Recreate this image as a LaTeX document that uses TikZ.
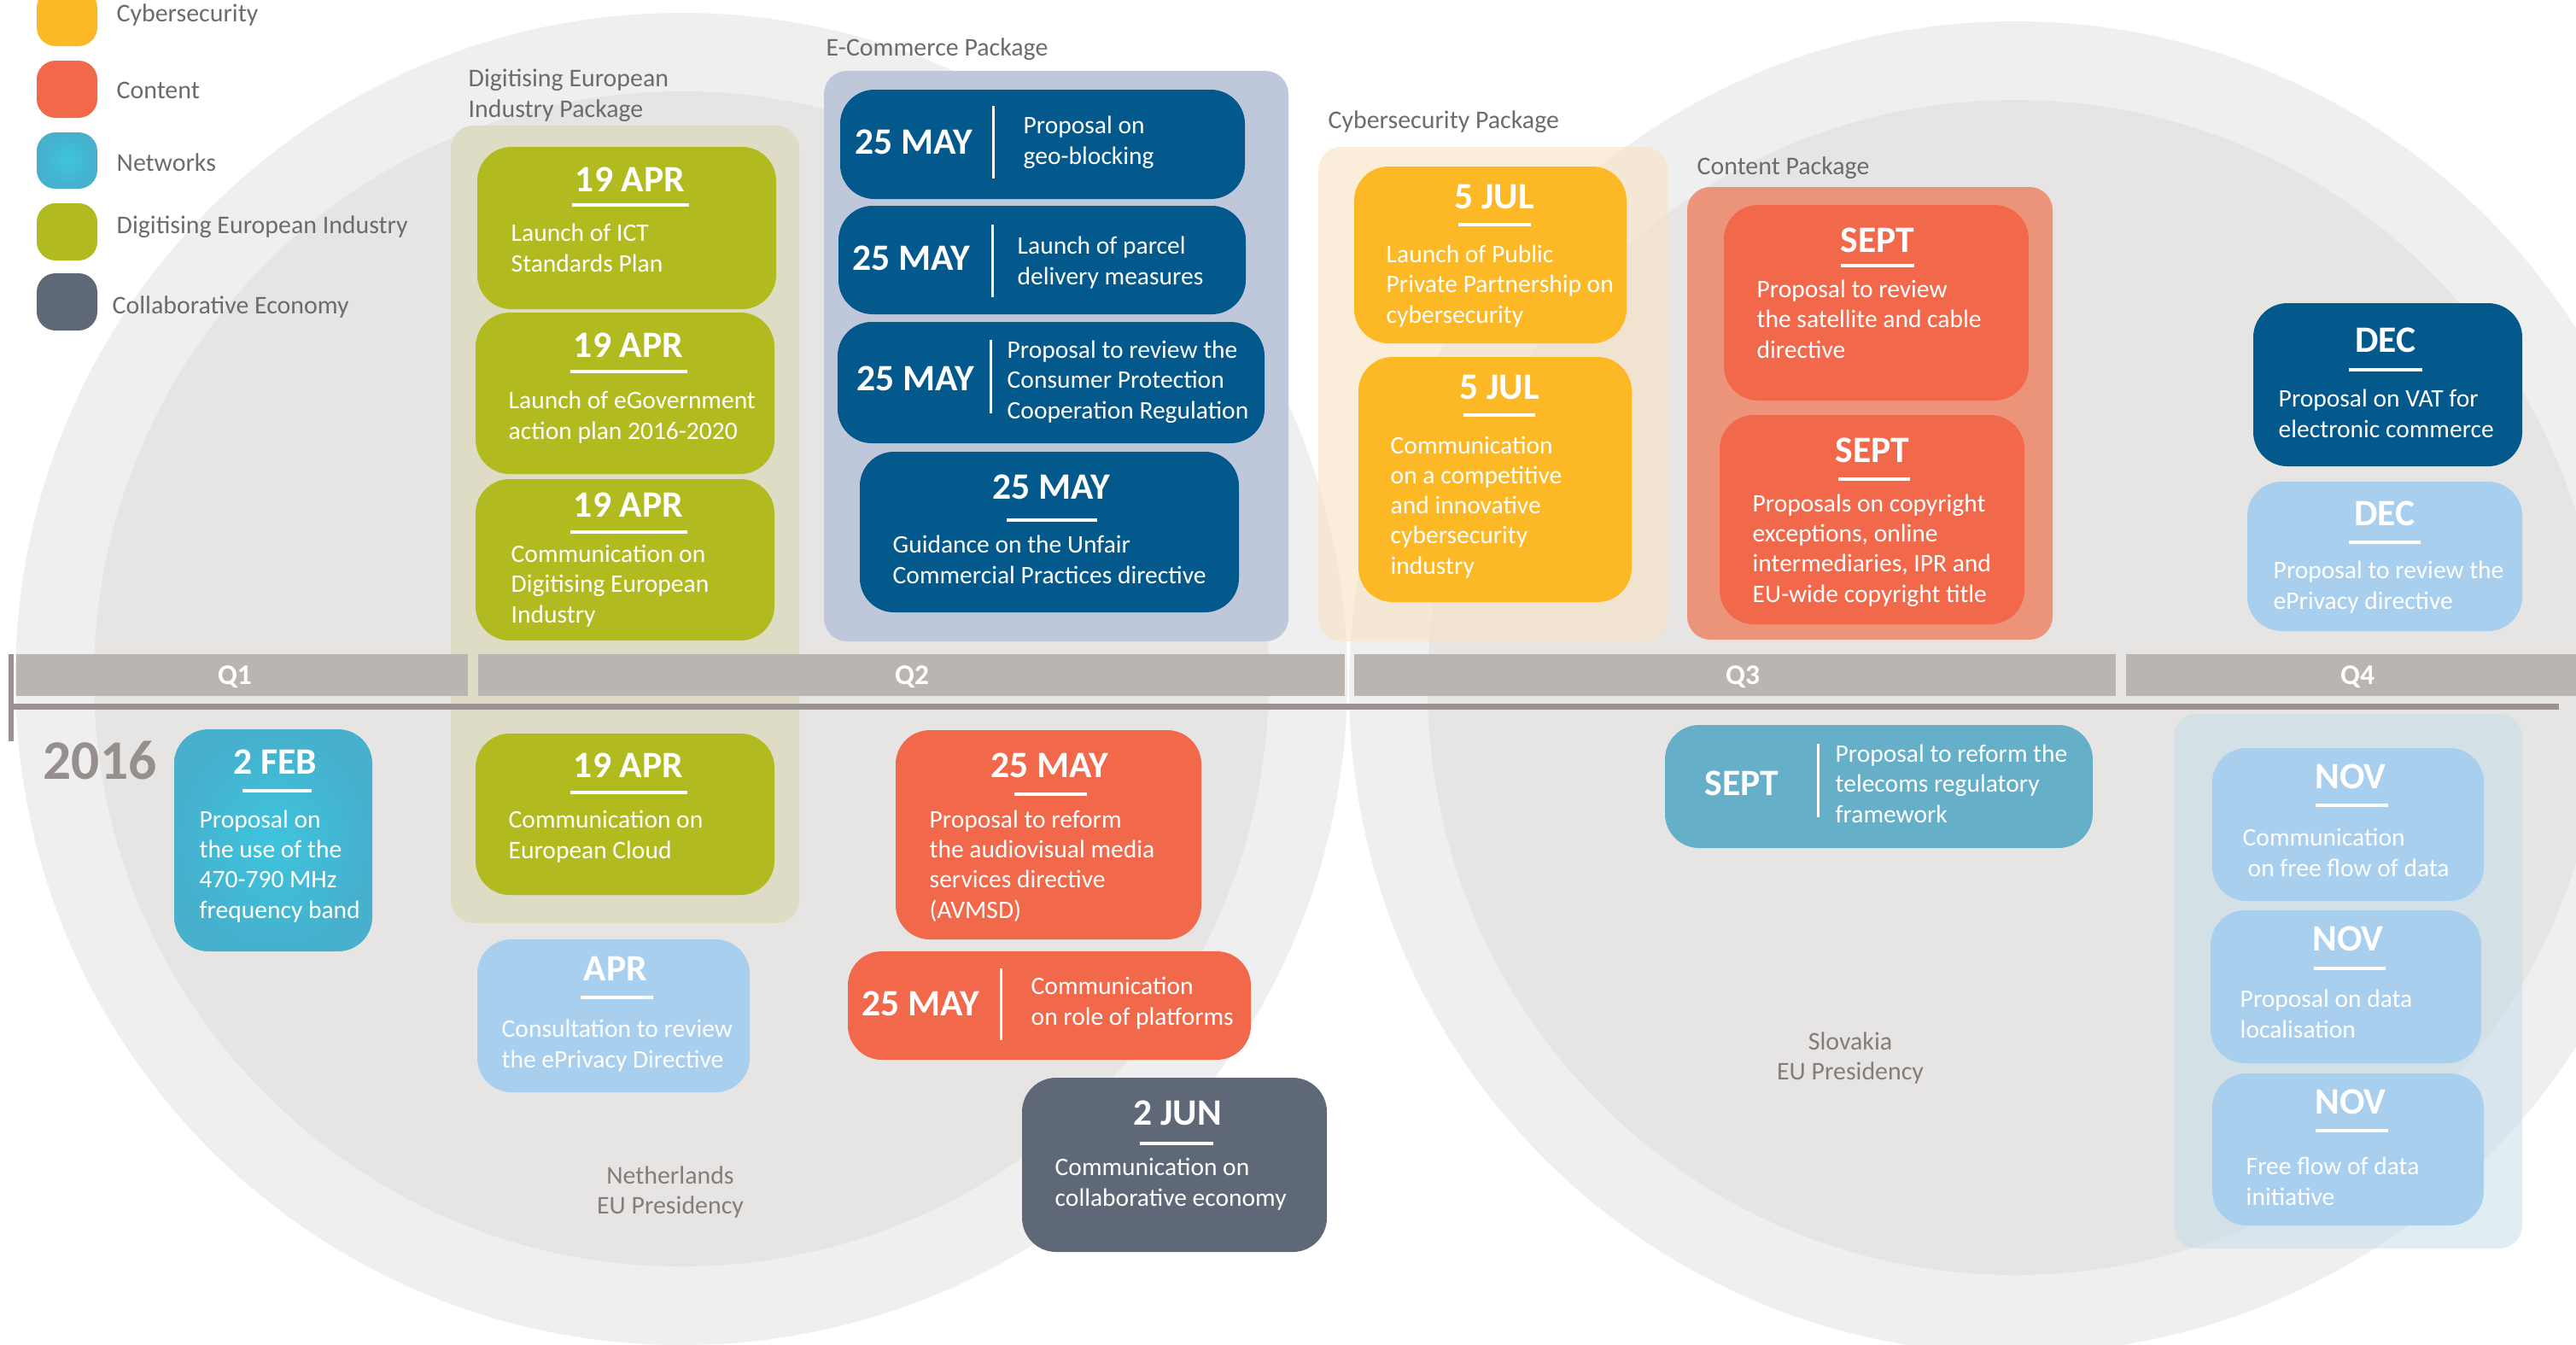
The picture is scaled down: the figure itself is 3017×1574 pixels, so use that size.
\documentclass[tikz,border=0pt]{standalone}
\usepackage{fontspec}
\setmainfont{Carlito}
\usepackage{tikz}
\usetikzlibrary{fit}

\definecolor{ringgray}{HTML}{F0EFF0}
\definecolor{coregray}{HTML}{E6E5E4}
\definecolor{deigreen}{HTML}{B1BB1F}
\definecolor{cyberyellow}{HTML}{FDB825}
\definecolor{contentred}{HTML}{F2684B}
\definecolor{netblue}{HTML}{46B0CD}
\definecolor{netglow}{HTML}{3EC4DD}
\definecolor{collabgray}{HTML}{5F6876}
\definecolor{ecomblue}{HTML}{03588C}
\definecolor{paleblue}{HTML}{A9CFEF}
\definecolor{telecomblue}{HTML}{65AFC9}
\definecolor{barcol}{HTML}{BAB5B1}
\definecolor{barline}{HTML}{9A9291}
\definecolor{labelgray}{HTML}{6E6B6C}
\definecolor{presgray}{HTML}{857D7B}
\definecolor{yeargray}{HTML}{968F8D}
\definecolor{deipkg}{HTML}{DEDCC5}
\definecolor{ecompkg}{HTML}{BFC8DB}
\definecolor{cyberpkg}{HTML}{F7E3C1}
\definecolor{contentpkg}{HTML}{EC947A}
\definecolor{novpkg}{HTML}{C1DDE9}

\begin{document}
\begin{tikzpicture}[x=0.1mm, y=-0.1mm,
    evbox/.style={rounded corners=4mm, inner sep=0pt},
    pkgbox/.style={rounded corners=2.7mm, inner sep=0pt},
    legbox/.style={rounded corners=2.2mm, inner sep=0pt},
    datetxt/.style={anchor=base, inner sep=0pt, text=white, font=\bfseries\fontsize{12.4}{14}\selectfont},
    evtxt/.style={anchor=base west, inner sep=0pt, align=left, text=white, font=\fontsize{8.4}{10}\selectfont},
    pkgtxt/.style={anchor=base west, inner sep=0pt, align=left, text=labelgray, font=\fontsize{8.5}{10}\selectfont},
    rule/.style={white, line width=0.4mm},
    divider/.style={white, line width=0.3mm},
    qtxt/.style={anchor=base, inner sep=0pt, text=white, font=\bfseries\fontsize{9.5}{11}\selectfont},
    prestxt/.style={align=center, inner sep=0pt, text=presgray, font=\fontsize{8.5}{10}\selectfont}]
        \useasboundingbox (0,0) rectangle (3017,1574);

        % presidency circles
        \fill[ringgray] (798,795) circle (78mm);
        \fill[ringgray] (2360,805) circle (78mm);
        \fill[coregray] (798,795) circle (68.8mm);
        \fill[coregray] (2360,805) circle (68.8mm);

        % legend
        \node[legbox, fill=cyberyellow, fit={(43,-13) (114,54)}] (legcyb) {};
        \node[legbox, fill=contentred, fit={(43,71) (114,138)}] (legcon) {};
        \node[legbox, inner color=netglow, outer color=netblue, fit={(43,155) (114,221)}] (legnet) {};
        \node[legbox, fill=deigreen, fit={(43,238) (114,305)}] (legdei) {};
        \node[legbox, fill=collabgray, fit={(43,320) (114,387)}] (legcol) {};
        \node[pkgtxt] (legcybt) at (136,25) {Cybersecurity};
        \node[pkgtxt] (legcont) at (136,115) {Content};
        \node[pkgtxt] (legnett) at (136,200) {Networks};
        \node[pkgtxt] (legdeit) at (136,273) {Digitising European Industry};
        \node[pkgtxt] (legcolt) at (131,367) {Collaborative Economy};

        % packages (multi-line texts sit on their last baseline)
        \node[pkgbox, fill=deipkg, fit={(528,147) (936,1081)}] (deipkg) {};
        \node[pkgbox, fill=ecompkg, fit={(965,83) (1509,751)}] (ecompkg) {};
        \node[pkgbox, fill=cyberpkg, fill opacity=0.6, fit={(1544,172) (1953,751)}] (cybpkg) {};
        \node[pkgbox, fill=contentpkg, fit={(1976,219) (2404,749)}] (conpkg) {};
        \node[pkgbox, fill=novpkg, fill opacity=0.5, fit={(2546,836) (2954,1462)}] (novpkg) {};
        \node[pkgtxt] (deipkgt) at (548,137) {Digitising European\\Industry Package};
        \node[pkgtxt] (ecompkgt) at (967,65) {E-Commerce Package};
        \node[pkgtxt] (cybpkgt) at (1555,150) {Cybersecurity Package};
        \node[pkgtxt] (conpkgt) at (1987,204) {Content Package};

        % quarters
        \node[fill=barcol, inner sep=0pt, fit={(19,766) (548,815)}] (q1) {};
        \node[fill=barcol, inner sep=0pt, fit={(560,766) (1575,815)}] (q2) {};
        \node[fill=barcol, inner sep=0pt, fit={(1586,766) (2478,815)}] (q3) {};
        \node[fill=barcol, inner sep=0pt, fit={(2490,766) (3030,815)}] (q4) {};
        \node[qtxt] (q1t) at (275,801) {Q1};
        \node[qtxt] (q2t) at (1068,801) {Q2};
        \node[qtxt] (q3t) at (2041,801) {Q3};
        \node[qtxt] (q4t) at (2761,801) {Q4};
        \coordinate (lineA) at (10,827.5);
        \coordinate (lineB) at (2997,827.5);
        \draw[barline, line width=0.7mm] (lineA) -- (lineB);
        \fill[barline] (10,766) rectangle (16,868);
        \node[anchor=base, inner sep=0pt, text=yeargray, font=\bfseries\fontsize{18.6}{20}\selectfont] (year) at (117,912) {2016};

        % digitising european industry
        \node[evbox, fill=deigreen, fit={(559,172) (909,362)}] (dei1) {};
        \node[datetxt] (dei1d) at (738,224) {19 APR};
        \draw[rule] (670,240) -- (807,240);
        \node[evtxt] (dei1t) at (598,318) {Launch of ICT\\Standards Plan};

        \node[evbox, fill=deigreen, fit={(557,366) (907,555)}] (dei2) {};
        \node[datetxt] (dei2d) at (736,418) {19 APR};
        \draw[rule] (668,435) -- (805,435);
        \node[evtxt] (dei2t) at (595,514) {Launch of eGovernment\\action plan 2016-2020};

        \node[evbox, fill=deigreen, fit={(557,561) (907,750)}] (dei3) {};
        \node[datetxt] (dei3d) at (736,605) {19 APR};
        \draw[rule] (668,623) -- (805,623);
        \node[evtxt] (dei3t) at (598,729) {Communication on\\Digitising European\\Industry};

        \node[evbox, fill=deigreen, fit={(557,859) (907,1048)}] (dei4) {};
        \node[datetxt] (dei4d) at (736,910) {19 APR};
        \draw[rule] (668,928) -- (805,928);
        \node[evtxt] (dei4t) at (595,1005) {Communication on\\European Cloud};

        % networks
        \node[evbox, inner color=netglow, outer color=netblue, fit={(204,854) (436,1114)}] (feb) {};
        \node[datetxt] (febd) at (322,906) {2 FEB};
        \draw[rule] (284,926) -- (365,926);
        \node[evtxt] (febt) at (233,1075) {Proposal on\\the use of the\\470-790 MHz\\frequency band};

        \node[evbox, fill=paleblue, fit={(559,1100) (878,1279)}] (apr) {};
        \node[datetxt] (aprd) at (721,1148) {APR};
        \draw[rule] (680,1168) -- (765,1168);
        \node[evtxt] (aprt) at (587,1250) {Consultation to review\\the ePrivacy Directive};

        \node[prestxt] (nl) at (785,1396) {Netherlands\\EU Presidency};

        % e-commerce
        \node[evbox, fill=ecomblue, fit={(984,105) (1458,233)}] (ecom1) {};
        \node[datetxt] (ecom1d) at (1070,180) {25 MAY};
        \draw[divider] (1163,124) -- (1163,209);
        \node[evtxt] (ecom1t) at (1198,192) {Proposal on\\geo-blocking};

        \node[evbox, fill=ecomblue, fit={(982,241) (1459,368)}] (ecom2) {};
        \node[datetxt] (ecom2d) at (1067,316) {25 MAY};
        \draw[divider] (1162,263) -- (1162,348);
        \node[evtxt] (ecom2t) at (1191,333) {Launch of parcel\\delivery measures};

        \node[evbox, fill=ecomblue, fit={(981,377) (1481,519)}] (ecom3) {};
        \node[datetxt] (ecom3d) at (1072,457) {25 MAY};
        \draw[divider] (1160,398) -- (1160,484);
        \node[evtxt] (ecom3t) at (1179,490) {Proposal to review the\\Consumer Protection\\Cooperation Regulation};

        \node[evbox, fill=ecomblue, fit={(1007,529) (1451,717)}] (ecom4) {};
        \node[datetxt] (ecom4d) at (1231,584) {25 MAY};
        \draw[rule] (1179,609) -- (1285,609);
        \node[evtxt] (ecom4t) at (1045,683) {Guidance on the Unfair\\Commercial Practices directive};

        % content, may and june
        \node[evbox, fill=contentred, fit={(1049,855) (1407,1100)}] (avmsd) {};
        \node[datetxt] (avmsdd) at (1229,910) {25 MAY};
        \draw[rule] (1188,930) -- (1273,930);
        \node[evtxt] (avmsdt) at (1088,1075) {Proposal to reform\\the audiovisual media\\services directive\\(AVMSD)};

        \node[evbox, fill=contentred, fit={(993,1114) (1465,1241)}] (plat) {};
        \node[datetxt] (platd) at (1078,1189) {25 MAY};
        \draw[divider] (1172,1134) -- (1172,1218);
        \node[evtxt] (platt) at (1207,1200) {Communication\\on role of platforms};

        \node[evbox, fill=collabgray, fit={(1197,1262) (1554,1466)}] (jun) {};
        \node[datetxt] (jund) at (1379,1317) {2 JUN};
        \draw[rule] (1335,1339) -- (1421,1339);
        \node[evtxt] (junt) at (1235,1412) {Communication on\\collaborative economy};

        % cybersecurity
        \node[evbox, fill=cyberyellow, fit={(1586,195) (1905,402)}] (cyb1) {};
        \node[datetxt] (cyb1d) at (1750,244) {5 JUL};
        \draw[rule] (1708,263) -- (1793,263);
        \node[evtxt] (cyb1t) at (1623,378) {Launch of Public\\Private Partnership on\\cybersecurity};

        \node[evbox, fill=cyberyellow, fit={(1591,418) (1911,705)}] (cyb2) {};
        \node[datetxt] (cyb2d) at (1756,467) {5 JUL};
        \draw[rule] (1714,486) -- (1798,486);
        \node[evtxt] (cyb2t) at (1628,672) {Communication\\on a competitive\\and innovative\\cybersecurity\\industry};

        % content package
        \node[evbox, fill=contentred, fit={(2019,240) (2376,469)}] (con1) {};
        \node[datetxt] (con1d) at (2199,295) {SEPT};
        \draw[rule] (2156,311) -- (2242,311);
        \node[evtxt] (con1t) at (2057,419) {Proposal to review\\the satellite and cable\\directive};

        \node[evbox, fill=contentred, fit={(2014,486) (2371,731)}] (con2) {};
        \node[datetxt] (con2d) at (2193,541) {SEPT};
        \draw[rule] (2153,561) -- (2237,561);
        \node[evtxt] (con2t) at (2052,705) {Proposals on copyright\\exceptions, online\\intermediaries, IPR and\\EU-wide copyright title};

        \node[evbox, fill=telecomblue, fit={(1950,849) (2451,993)}] (tel) {};
        \node[datetxt] (teld) at (2040,931) {SEPT};
        \draw[divider] (2129,871) -- (2129,957);
        \node[evtxt] (telt) at (2149,963) {Proposal to reform the\\telecoms regulatory\\framework};

        \node[prestxt] (sk) at (2167,1239) {Slovakia\\EU Presidency};

        % december
        \node[evbox, fill=ecomblue, fit={(2639,355) (2954,546)}] (dec1) {};
        \node[datetxt] (dec1d) at (2794,412) {DEC};
        \draw[rule] (2751,433) -- (2837,433);
        \node[evtxt] (dec1t) at (2668,512) {Proposal on VAT for\\electronic commerce};

        \node[evbox, fill=paleblue, fit={(2632,564) (2954,739)}] (dec2) {};
        \node[datetxt] (dec2d) at (2793,615) {DEC};
        \draw[rule] (2751,635) -- (2835,635);
        \node[evtxt] (dec2t) at (2662,713) {Proposal to review the\\ePrivacy directive};

        % november
        \node[evbox, fill=paleblue, fit={(2591,876) (2909,1055)}] (nov1) {};
        \node[datetxt] (nov1d) at (2753,923) {NOV};
        \draw[rule] (2712,943) -- (2797,943);
        \node[evtxt] (nov1t) at (2626,1026) {Communication\\\hspace{0.6mm}on free flow of data};

        \node[evbox, fill=paleblue, fit={(2589,1066) (2906,1245)}] (nov2) {};
        \node[datetxt] (nov2d) at (2750,1113) {NOV};
        \draw[rule] (2710,1134) -- (2794,1134);
        \node[evtxt] (nov2t) at (2623,1215) {Proposal on data\\localisation};

        \node[evbox, fill=paleblue, fit={(2591,1257) (2909,1435)}] (nov3) {};
        \node[datetxt] (nov3d) at (2753,1304) {NOV};
        \draw[rule] (2712,1324) -- (2797,1324);
        \node[evtxt] (nov3t) at (2630,1411) {Free flow of data\\initiative};
    \end{tikzpicture}
\end{document}
